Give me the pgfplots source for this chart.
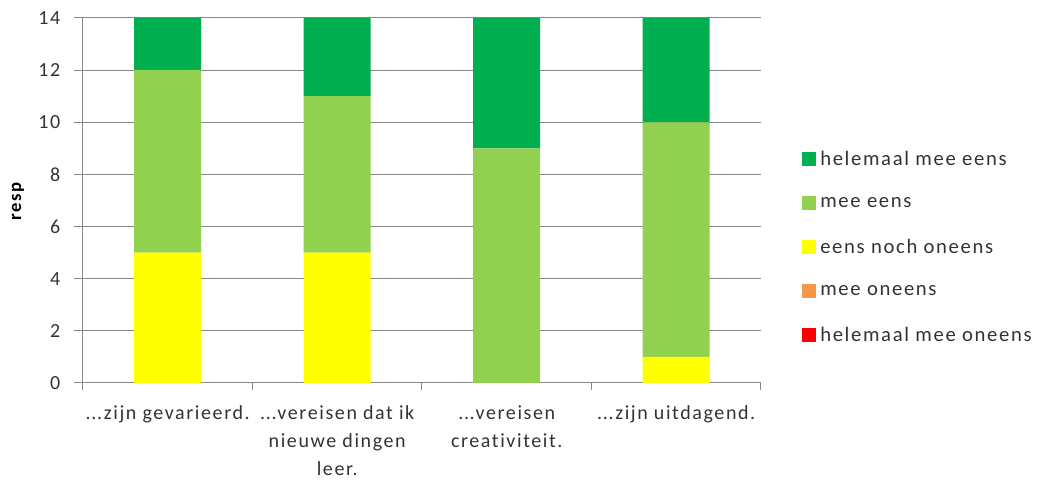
\documentclass[border=0pt]{standalone}
\usepackage{fontspec}
\setmainfont{Carlito}[LetterSpace=8, Ligatures=NoCommon]
\usepackage{pgfplots}
\pgfplotsset{compat=1.18}
\definecolor{dg}{HTML}{00B050}
\definecolor{lg}{HTML}{92D050}
\definecolor{yel}{HTML}{FFFF00}
\definecolor{ora}{HTML}{F79646}
\definecolor{red1}{HTML}{FF0000}
\definecolor{gridc}{RGB}{134,134,134}
\newcommand{\dd}{.\kern0.5pt.\kern0.5pt.}
\begin{document}
\begin{tikzpicture}[x=1pt,y=1pt]
\path[use as bounding box] (0,0) rectangle (780,363);
\begin{axis}[
  at={(62.25pt,75.75pt)}, anchor=south west,
  scale only axis, width=508.5pt, height=273.75pt,
  ybar stacked, bar width=50.25pt,
  xmin=-0.5, xmax=3.5, ymin=0, ymax=14,
  ytick={0,2,4,6,8,10,12,14},
  xtick={0,1,2,3},
  xticklabels={{\dd zijn gevarieerd.},{\dd vereisen dat ik\\nieuwe dingen\\leer.},{\dd vereisen\\creativiteit.},{\dd zijn uitdagend.}},
  minor xtick={-0.5,0.5,1.5,2.5,3.5},
  axis lines=left,
  axis line style={draw=gridc, line width=0.75pt, -},
  tick align=outside,
  major x tick style={draw=none},
  minor x tick style={draw=gridc, line width=0.75pt},
  minor tick length=5.25pt,
  major tick length=6.75pt,
  y tick style={draw=gridc, line width=0.75pt},
  ymajorgrids,
  grid style={draw=gridc, line width=0.75pt},
  /pgf/number format/assume math mode=true,
  tick label style={font=\fontsize{15pt}{21pt}\selectfont, text=black!80},
  xticklabel style={align=center, yshift=-7pt},
  yticklabel style={xshift=-6.75pt},
  ylabel={\textbf{resp}},
  every axis y label/.style={at={(axis description cs:-0.0959,0.5)}, rotate=90, anchor=center,
    font=\fontsize{14pt}{16pt}\selectfont},
  legend style={at={(1.0546,0.372)}, anchor=west, draw=none, fill=none,
    font=\fontsize{15.5pt}{17pt}\selectfont, text=black!80, row sep=18.3pt,
    nodes={inner xsep=3pt}},
  legend cell align=left,
  reverse legend,
  every axis plot/.append style={draw=none},
  myleg/.style={legend image code/.code={\fill[##1] (0pt,-5.25pt) rectangle (10.5pt,5.25pt);}},
]
\addplot[fill=red1, draw=none, myleg] coordinates {(0,0) (1,0) (2,0) (3,0)};
\addplot[fill=ora, draw=none, myleg] coordinates {(0,0) (1,0) (2,0) (3,0)};
\addplot[fill=yel, draw=none, myleg] coordinates {(0,5) (1,5) (2,0) (3,1)};
\addplot[fill=lg, draw=none, myleg] coordinates {(0,7) (1,6) (2,9) (3,9)};
\addplot[fill=dg, draw=none, myleg] coordinates {(0,2) (1,3) (2,5) (3,4)};
\legend{helemaal mee oneens, mee oneens, eens noch oneens, mee eens, helemaal mee eens}
\end{axis}
\end{tikzpicture}
\end{document}
